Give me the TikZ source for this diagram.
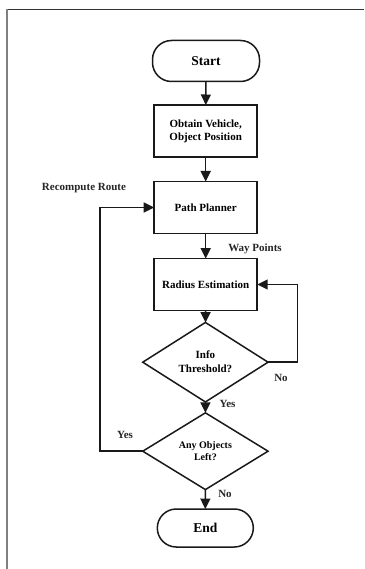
\documentclass[tikz,border=0pt]{standalone}
\usepackage{fontspec}
\setmainfont{Liberation Serif}
\usetikzlibrary{arrows.meta,shapes.geometric}
\tikzset{
  base/.style={draw=black!90, line width=1.5pt, inner sep=0pt, outer sep=0pt, align=center, font=\fontsize{11}{13}\selectfont\bfseries},
  procbox/.style={base, rectangle, minimum width=103pt, minimum height=52pt},
  termbox/.style={base, rectangle, rounded corners=19pt, font=\fontsize{13.5}{15}\selectfont\bfseries},
  decbox/.style={base, diamond, minimum width=125.3pt, minimum height=65pt, inner sep=1pt},
  arr/.style={draw=black!90, line width=1.5pt, -{Triangle[length=10.5pt,width=10pt]}},
  lbl/.style={font=\fontsize{11}{13}\selectfont\bfseries, inner sep=0pt, text=black!85}
}
\begin{document}
\begin{tikzpicture}[x=1pt,y=-1pt]
\useasboundingbox (0,0) rectangle (364,569);
\draw[black!80, line width=1.3pt] (7,9.5) -- (364,9.5);
\draw[black!50, line width=1.6pt] (7,9.5) -- (7,569);

\node[termbox, minimum width=107pt, minimum height=41pt] (start) at (206,61) {Start};
\node[procbox] (obtain) at (205.7,131) {Obtain Vehicle,\\Object Position};
\node[procbox] (planner) at (205.7,207.5) {Path Planner};
\node[procbox] (radius) at (205.7,284.5) {Radius Estimation};
\node[decbox, font=\fontsize{11}{14}\selectfont\bfseries] (info) at (205.4,362.2) {Info\\Threshold?};
\node[decbox, font=\fontsize{10}{12.6}\selectfont\bfseries] (any) at (205.4,451.2) {Any Objects\\Left?};
\node[termbox, minimum width=96pt, minimum height=38pt] (end) at (205.3,528) {End};

\draw[arr] (start) -- (obtain);
\draw[arr] (obtain) -- (planner);
\draw[arr] (planner) -- (radius);
\draw[arr] (radius) -- (info);
\draw[arr] (info) -- (any);
\draw[arr] (any) -- (end);
\coordinate (noturn) at (297.7,362.2);
\draw[arr] (info.east) -- (noturn) |- (radius.east);
\coordinate (yesturn) at (100,451.2);
\draw[arr] (any.west) -- (yesturn) |- (planner.west);

\node[lbl] (lrecomp) at (84,188) {Recompute Route};
\node[lbl] (lway) at (255,249) {Way Points};
\node[lbl] (lno1) at (281,377.5) {No};
\node[lbl] (lyes1) at (227.5,403.5) {Yes};
\node[lbl] (lyes2) at (125,435) {Yes};
\node[lbl] (lno2) at (225,493.5) {No};
\end{tikzpicture}
\end{document}
